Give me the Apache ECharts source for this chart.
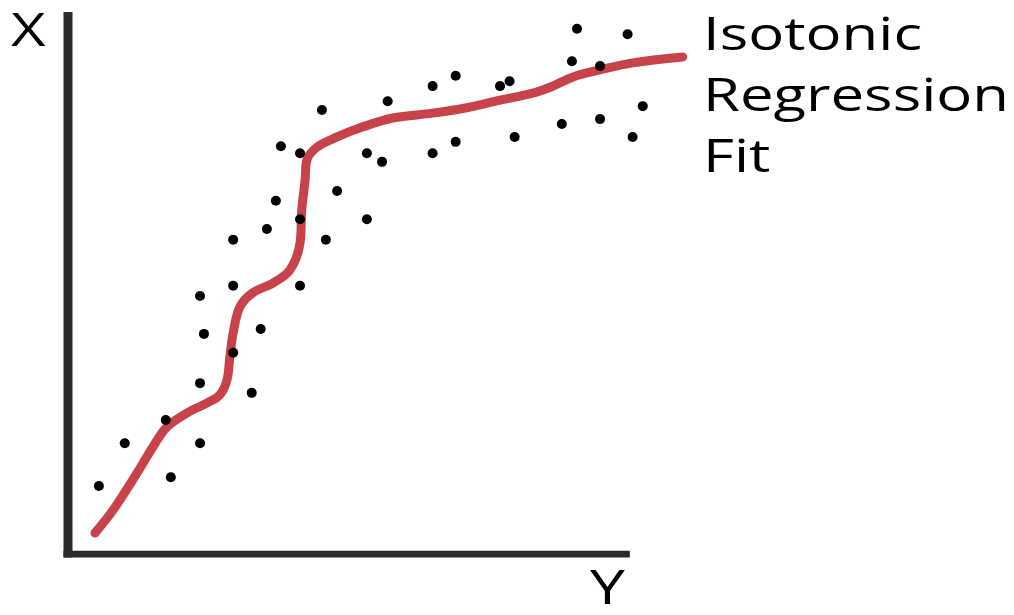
<!DOCTYPE html>
<html>
<head>
<meta charset="utf-8">
<script src="https://cdn.jsdelivr.net/npm/echarts@6/dist/echarts.min.js"></script>
<style>
html,body{margin:0;padding:0;background:#fff;}
#chart{width:1014px;height:615px;}
</style>
</head>
<body>
<div id="chart"></div>
<script>
// Scatter observations (horizontal value, vertical value)
const dotX = [5.5, 10.1, 17.4, 18.3, 23.5, 23.5, 24.2, 23.5, 29.4, 34.3, 32.7, 29.4, 41.3, 29.4, 35.4, 45.9, 41.3, 37.0, 47.9, 53.2, 37.9, 41.3, 53.2, 55.9, 45.2, 56.9, 64.9, 69.0, 64.9, 69.0, 76.9, 78.6, 79.5, 87.9, 89.7, 90.6, 94.7, 99.6, 94.7, 100.5, 102.3];
const dotY = [12.4, 20.3, 24.6, 14.0, 20.3, 31.4, 40.5, 47.5, 37.0, 41.4, 29.6, 49.4, 49.4, 57.9, 59.9, 57.9, 61.7, 65.1, 66.9, 61.7, 75.2, 73.9, 73.9, 72.3, 81.9, 83.5, 86.3, 88.2, 73.9, 76.0, 86.3, 87.2, 76.9, 79.3, 90.9, 96.9, 90.0, 95.9, 80.2, 76.9, 82.6];

// Isotonic regression fit curve
const fitX = [4.8, 8.0, 12.3, 15.1, 17.6, 21.2, 24.7, 27.0, 28.3, 28.8, 29.4, 30.6, 32.9, 36.5, 39.5, 41.3, 41.6, 42.2, 42.5, 44.3, 47.9, 52.0, 57.8, 64.9, 71.0, 76.9, 82.7, 85.8, 89.9, 94.7, 100.5, 109.4];
const fitY = [3.7, 7.9, 14.8, 19.6, 23.3, 25.9, 27.7, 29.2, 32.0, 36.2, 40.7, 45.5, 48.1, 49.9, 52.3, 57.3, 63.4, 68.9, 72.6, 75.0, 76.9, 78.6, 80.4, 81.3, 82.3, 83.7, 85.0, 86.1, 88.0, 89.3, 90.6, 91.7];

// Text labels
const horizontalAxisName = 'Y';
const verticalAxisName = 'X';
const fitLabel = ['Isotonic', 'Regression', 'Fit'];

// Axis extents (data units)
const xMin = 0, xMax = 110, xAxisEnd = 100;
const yMin = 0, yMax = 100;

const chart = echarts.init(document.getElementById('chart'), null, {renderer: 'canvas'});

const dots = dotX.map((x, i) => [x, dotY[i]]);
const fit = fitX.map((x, i) => [x, fitY[i]]);

const FONT = '"Open Sans", "DejaVu Sans", sans-serif';

chart.setOption({
  animation: false,
  backgroundColor: '#ffffff',
  grid: {left: 68, top: 12, width: 618, height: 541},
  xAxis: {
    type: 'value', min: xMin, max: xMax,
    axisLine: {show: false}, axisTick: {show: false},
    axisLabel: {show: false}, splitLine: {show: false}
  },
  yAxis: {
    type: 'value', min: yMin, max: yMax,
    axisLine: {show: false}, axisTick: {show: false},
    axisLabel: {show: false}, splitLine: {show: false}
  },
  series: [
    {
      name: 'axis-v', type: 'line', silent: true, symbol: 'none',
      lineStyle: {color: '#2b2b2b', width: 9, cap: 'butt'},
      data: [[0, -1.5], [0, yMax]], z: 1
    },
    {
      name: 'axis-h', type: 'line', silent: true, symbol: 'none',
      lineStyle: {color: '#2b2b2b', width: 9, cap: 'butt'},
      data: [[-0.8, -0.4], [xAxisEnd, -0.4]], z: 1
    },
    {
      name: 'Isotonic Regression Fit', type: 'line', symbol: 'none', smooth: 0.35,
      lineStyle: {color: '#c8424a', width: 9, cap: 'round', join: 'round'},
      data: fit, z: 2
    },
    {
      name: 'observations', type: 'scatter', symbol: 'circle', symbolSize: 10,
      itemStyle: {color: '#000000', opacity: 1},
      data: dots, z: 3
    }
  ],
  graphic: [
    {type: 'text', left: 11, top: 10, scaleX: 1.3, style: {text: verticalAxisName, font: '400 46px ' + FONT, fill: '#000'}},
    {type: 'text', left: 590, top: 566, scaleX: 1.3, style: {text: horizontalAxisName, font: '400 48px ' + FONT, fill: '#000'}},
    {type: 'text', left: 703, top: 7, scaleX: 1.33, style: {text: fitLabel.join('\n'), font: '400 45px ' + FONT, lineHeight: 61, fill: '#000'}}
  ]
});
</script>
</body>
</html>
